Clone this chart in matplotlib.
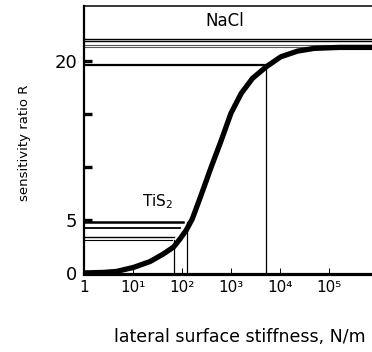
import numpy as np
import matplotlib.pyplot as plt

# curve: log10(stiffness), sensitivity ratio R
curve_logk = [0.0, 0.40, 0.66, 1.01, 1.35, 1.62, 1.83, 1.96, 2.09, 2.21, 2.37,
              2.48, 2.59, 2.79, 3.00, 3.21, 3.44, 3.72, 4.02, 4.36, 4.70, 5.21, 5.90]
curve_R = [0.0, 0.05, 0.14, 0.52, 1.08, 1.79, 2.45, 3.21, 4.06, 5.09, 7.08,
           8.49, 9.91, 12.36, 15.07, 16.95, 18.37, 19.46, 20.41, 20.94, 21.2, 21.29, 21.29]

# NaCl levels (full-width lines) and marker
nacl_levels = [22.05, 21.9, 21.5, 21.3]
nacl_R = 19.6
nacl_logk = 3.72

# TiS2 levels with their end points on the curve
tis2_levels = [4.84, 4.22, 3.42, 3.11]
tis2_ends = [2.03, 1.96, 1.84, 1.79]
tis2_vlines = [(1.84, 3.11), (2.11, 4.84)]

yticks = [0, 5, 10, 15, 20]
ytick_labels = ["0", "5", "", "", "20"]
xticks = [1, 1e1, 1e2, 1e3, 1e4, 1e5]
xtick_labels = ["1", "10¹", "10²", "10³", "10⁴", "10⁵"]

plt.rcParams["font.family"] = "DejaVu Sans"

fig = plt.figure(figsize=(3.72, 3.52), dpi=100)
ax = fig.add_axes([84 / 372, 78 / 352, 1 - 84 / 372, 268 / 352])

k = 10 ** np.array(curve_logk)
ax.plot(k, curve_R, color="black", lw=3.8, solid_capstyle="butt",
        solid_joinstyle="round", zorder=5)

# NaCl
for i, lvl in enumerate(nacl_levels):
    ax.axhline(lvl, color="black" if i < 2 else "0.35", lw=1.0 if i < 2 else 0.8)
ax.plot([1, 10 ** nacl_logk], [nacl_R, nacl_R], color="black", lw=1.6)
ax.plot([10 ** nacl_logk] * 2, [-0.2, nacl_R], color="black", lw=0.9)
ax.text(10 ** 2.88, 23.8, "NaCl", fontsize=12, ha="center", va="center")

# TiS2
tis2_lw = [1.8, 1.3, 1.0, 0.8]
for lvl, end, lw in zip(tis2_levels, tis2_ends, tis2_lw):
    ax.plot([1, 10 ** end], [lvl, lvl], color="black", lw=lw)
for lk, top in tis2_vlines:
    ax.plot([10 ** lk] * 2, [-0.2, top], color="black", lw=0.9)
ax.text(10 ** 1.5, 6.7, "TiS$_2$", fontsize=11, ha="center", va="center")

ax.set_xscale("log")
ax.set_xlim(1, 10 ** 5.88)
ax.set_ylim(-0.1, 25.2)

ax.set_yticks(yticks)
ax.set_yticklabels(ytick_labels, fontsize=13)
ax.set_xticks(xticks)
ax.set_xticklabels(xtick_labels, fontsize=11)
ax.minorticks_off()
ax.tick_params(axis="y", direction="in", length=6, width=2.4, pad=5)
ax.tick_params(axis="x", direction="in", length=4, width=0.7, pad=4)

ax.spines["right"].set_visible(False)
ax.spines["left"].set_linewidth(1.6)
ax.spines["bottom"].set_linewidth(2.3)
ax.spines["top"].set_linewidth(1.1)

fig.text(240 / 372, 1 - 337 / 352, "lateral surface stiffness, N/m",
         fontsize=12.5, ha="center", va="center")
fig.text(25 / 372, 1 - 143 / 352, "sensitivity ratio R", fontsize=9.5,
         rotation=90, ha="center", va="center")

fig.savefig("out.png", dpi=100)
